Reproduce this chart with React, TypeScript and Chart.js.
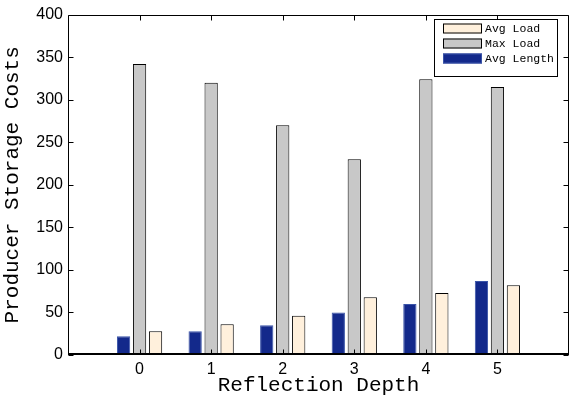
import React, { useEffect, useRef } from 'react';
import { Chart, registerables } from 'chart.js';

Chart.register(...registerables);

const depths = [0, 1, 2, 3, 4, 5];
const avgLength = [22, 28, 35, 50, 60, 87];
const maxLoad = [342, 320, 270, 230, 324, 315];
const avgLoad = [28, 36, 46, 68, 73, 82];
const yTickValues = [0, 50, 100, 150, 200, 250, 300, 350, 400];

const MONO = '"Liberation Mono", "Courier New", monospace';
const SANS = '"Liberation Sans", Arial, Helvetica, sans-serif';

const framePlugin = {
  id: 'frame',
  afterDraw(chart: any) {
    const { ctx, chartArea } = chart;
    const { left, right, top, bottom } = chartArea;
    const xs = chart.scales.x;
    const ys = chart.scales.y;
    ctx.save();
    ctx.strokeStyle = '#000';
    ctx.lineWidth = 1;
    const L = Math.round(left) + 0.5;
    const R = Math.round(right) - 0.5;
    const T = Math.round(top) + 0.5;
    const B = Math.round(bottom) - 0.5;
    ctx.beginPath();
    ctx.moveTo(L, B);
    ctx.lineTo(L, T);
    ctx.lineTo(R, T);
    ctx.lineTo(R, B);
    ctx.stroke();
    ctx.lineWidth = 2;
    ctx.beginPath();
    ctx.moveTo(L - 0.5, Math.round(bottom) - 1);
    ctx.lineTo(R + 0.5, Math.round(bottom) - 1);
    ctx.stroke();
    ctx.lineWidth = 1;
    const tl = 5;
    ctx.beginPath();
    yTickValues.forEach((v) => {
      const y = Math.round(ys.getPixelForValue(v)) + 0.5;
      ctx.moveTo(L, y);
      ctx.lineTo(L + tl, y);
      ctx.moveTo(R, y);
      ctx.lineTo(R - tl, y);
    });
    depths.forEach((d) => {
      const x = Math.round(xs.getPixelForValue(d)) + 0.5;
      ctx.moveTo(x, B);
      ctx.lineTo(x, B - tl);
      ctx.moveTo(x, T);
      ctx.lineTo(x, T + tl);
    });
    ctx.stroke();

    // legend (reverse order, MATLAB style)
    const bx = 434.5, by = 19.5, bw = 123, bh = 57;
    ctx.fillStyle = '#fff';
    ctx.fillRect(bx, by, bw, bh);
    ctx.strokeStyle = '#000';
    ctx.strokeRect(bx, by, bw, bh);
    const ds = chart.data.datasets.slice().reverse();
    ctx.font = `11.5px ${MONO}`;
    ctx.textBaseline = 'middle';
    ds.forEach((d: any, i: number) => {
      const cy = 28.5 + i * 15;
      ctx.fillStyle = d.backgroundColor;
      ctx.fillRect(443, cy - 5, 39, 10);
      ctx.strokeStyle = d.borderColor;
      ctx.strokeRect(443.5, cy - 4.5, 38, 9);
      ctx.fillStyle = '#000';
      ctx.fillText(d.label, 485, cy + 0.5);
    });
    ctx.restore();
  },
};

export default function App() {
  const ref = useRef<HTMLCanvasElement>(null);
  useEffect(() => {
    document.body.style.margin = '0';
    const mk = (arr: number[]) => depths.map((d, i) => ({ x: d, y: arr[i] }));
    const chart = new Chart(ref.current!, {
      type: 'bar',
      data: {
        datasets: [
          { label: 'Avg Length', data: mk(avgLength) as any, backgroundColor: '#13298b', borderColor: '#3a54a8', borderWidth: 1 },
          { label: 'Max Load', data: mk(maxLoad) as any, backgroundColor: '#c8c8c8', borderColor: '#000', borderWidth: 1 },
          { label: 'Avg Load', data: mk(avgLoad) as any, backgroundColor: '#fff0dc', borderColor: '#000', borderWidth: 1 },
        ],
      },
      options: {
        animation: false,
        responsive: false,
        maintainAspectRatio: false,
        events: [],
        datasets: { bar: { categoryPercentage: 0.67, barPercentage: 0.83 } },
        layout: { padding: { top: 12, right: 5, left: 0, bottom: 0 } },
        plugins: { legend: { display: false }, tooltip: { enabled: false } },
        scales: {
          x: {
            type: 'linear',
            min: -1,
            max: 6,
            offset: false,
            grid: { display: false, drawTicks: false },
            border: { display: false },
            ticks: {
              stepSize: 1,
              autoSkip: false,
              maxRotation: 0,
              padding: 5,
              color: '#000',
              font: { family: SANS, size: 16 },
              callback: (v: any) => (v >= 0 && v <= 5 ? String(v) : ''),
            },
            title: {
              display: true,
              text: 'Reflection Depth',
              color: '#000',
              font: { family: MONO, size: 21 },
              padding: { top: -1, bottom: 0 },
            },
            afterFit: (s: any) => { s.height = 43; },
          },
          y: {
            min: 0,
            max: 400,
            grid: { display: false, drawTicks: false },
            border: { display: false },
            ticks: {
              stepSize: 50,
              padding: 5,
              color: '#000',
              font: { family: SANS, size: 16 },
            },
            title: {
              display: true,
              text: 'Producer Storage Costs',
              color: '#000',
              font: { family: MONO, size: 21 },
              padding: { top: 0, bottom: 0 },
            },
            afterFit: (s: any) => { s.width = 68; },
          },
        },
      },
      plugins: [framePlugin],
    });
    return () => chart.destroy();
  }, []);
  return (
    <div style={{ position: 'absolute', left: 0, top: 0, width: 574, height: 398 }}>
      <canvas ref={ref} width={574} height={398} style={{ width: 574, height: 398 }} />
    </div>
  );
}
